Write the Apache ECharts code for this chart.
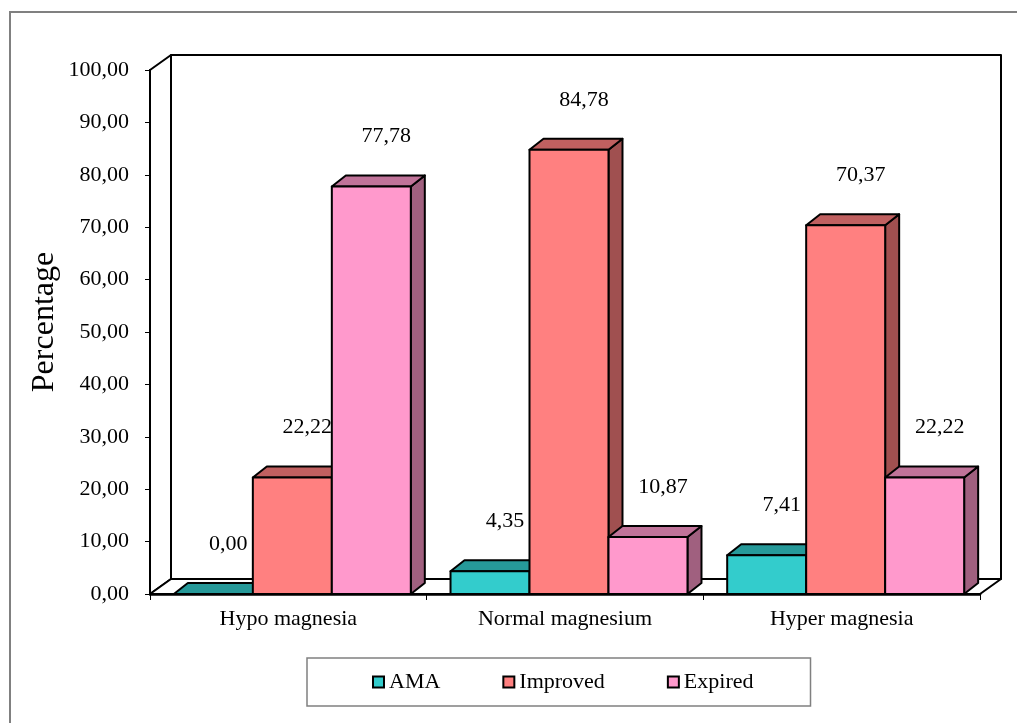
<!DOCTYPE html>
<html>
<head>
<meta charset="utf-8">
<script src="https://cdn.jsdelivr.net/npm/echarts@6/dist/echarts.min.js"></script>
<style>
html,body{margin:0;padding:0;background:#fff;}
#chart{width:1017px;height:723px;}
</style>
</head>
<body>
<div id="chart"></div>
<script>
// ---- data ----
const categories = ['Hypo magnesia', 'Normal magnesium', 'Hyper magnesia'];
const seriesNames = ['AMA', 'Improved', 'Expired'];
const amaValues = [0.00, 4.35, 7.41];
const improvedValues = [22.22, 84.78, 70.37];
const expiredValues = [77.78, 10.87, 22.22];
const yAxisTitle = 'Percentage';

// ---- styles ----
const FONT = '"Liberation Serif", "Times New Roman", serif';
const palettes = [
  { front: '#33CCCC', top: '#269999', side: '#1F8080' },
  { front: '#FF8080', top: '#C06060', side: '#A05050' },
  { front: '#FF99CC', top: '#C07399', side: '#A0607F' }
];
const fmt = v => v.toFixed(2).replace('.', ',');

function barRenderer(si) {
  const pal = palettes[si];
  return function (params, api) {
    const ci = api.value(0), v = api.value(1);
    const base = api.coord([ci, 0]);
    const topP = api.coord([ci, v]);
    const band = api.size([1, 0])[0];
    const bw = band * 0.2855;
    const x0 = base[0] - 1.5 * bw + 4 + si * bw;
    const x1 = x0 + bw;
    const yb = base[1], yt = topP[1];
    const dx = 14, dy = -11;
    const stroke = { stroke: '#000', lineWidth: 2, lineJoin: 'round' };
    return {
      type: 'group',
      children: [
        { type: 'polygon', shape: { points: [[x1, yt], [x1 + dx, yt + dy], [x1 + dx, yb + dy], [x1, yb]] },
          style: Object.assign({ fill: pal.side }, stroke) },
        { type: 'polygon', shape: { points: [[x0, yt], [x0 + dx, yt + dy], [x1 + dx, yt + dy], [x1, yt]] },
          style: Object.assign({ fill: pal.top }, stroke) },
        { type: 'rect', shape: { x: x0, y: yt, width: bw, height: yb - yt },
          style: Object.assign({ fill: pal.front }, stroke) },
        { type: 'text', style: { text: fmt(v), x: (x0 + x1) / 2 + 15, y: yt - 50,
          align: 'center', verticalAlign: 'middle', font: '22px ' + FONT, fill: '#000' } }
      ]
    };
  };
}

function wallRenderer(params, api) {
  const c = params.coordSys;
  const x = c.x, y = c.y, w = c.width, h = c.height;
  const dx = 21, dy = -15;
  const st = { fill: '#fff', stroke: '#000', lineWidth: 2, lineJoin: 'round' };
  return {
    type: 'group',
    children: [
      { type: 'rect', shape: { x: x + dx, y: y + dy, width: w, height: h }, style: Object.assign({}, st) },
      { type: 'polygon', shape: { points: [[x, y], [x + dx, y + dy], [x + dx, y + h + dy], [x, y + h]] }, style: Object.assign({}, st) },
      { type: 'polygon', shape: { points: [[x, y + h], [x + dx, y + h + dy], [x + w + dx, y + h + dy], [x + w, y + h]] }, style: Object.assign({}, st) }
    ]
  };
}

const valueLists = [amaValues, improvedValues, expiredValues];
const chart = echarts.init(document.getElementById('chart'), null, { renderer: 'canvas' });

const option = {
  animation: false,
  backgroundColor: '#fff',
  grid: { left: 150, right: 37, top: 70, bottom: 129 },
  graphic: [
    { type: 'rect', shape: { x: 10, y: 12, width: 1200, height: 900 },
      style: { fill: 'none', stroke: '#808080', lineWidth: 2 }, z: -10 },
    { type: 'text', x: 45, y: 322, rotation: Math.PI / 2,
      style: { text: yAxisTitle, font: '32px ' + FONT, fill: '#000', align: 'center', verticalAlign: 'middle' } }
  ],
  legend: {
    data: seriesNames,
    left: 307, top: 658,
    padding: [13, 57, 13, 65],
    itemGap: 62,
    itemWidth: 11, itemHeight: 11,
    icon: 'rect',
    borderColor: '#808080', borderWidth: 1.5,
    textStyle: { fontFamily: FONT, fontSize: 22, color: '#000' }
  },
  xAxis: {
    type: 'category',
    data: categories,
    z: 5,
    axisLine: { show: true, lineStyle: { color: '#000', width: 2.5 } },
    axisTick: { show: true, length: 6, lineStyle: { color: '#000', width: 1 } },
    axisLabel: { margin: 14, fontFamily: FONT, fontSize: 22, color: '#000' },
    splitLine: { show: false }
  },
  yAxis: {
    type: 'value',
    min: 0, max: 100, interval: 10,
    z: 5,
    axisLine: { show: true, lineStyle: { color: '#000', width: 2 } },
    axisTick: { show: true, length: 5, lineStyle: { color: '#000', width: 1 } },
    axisLabel: { margin: 21, fontFamily: FONT, fontSize: 22, color: '#000', formatter: v => fmt(v) },
    splitLine: { show: false }
  },
  series: [
    { type: 'custom', name: '_walls', z: 1, silent: true, renderItem: wallRenderer, data: [[0, 0]], encode: { x: 0, y: 1 } }
  ].concat(seriesNames.map((name, si) => ({
    type: 'custom',
    name: name,
    z: 2,
    renderItem: barRenderer(si),
    itemStyle: { color: palettes[si].front, borderColor: '#000', borderWidth: 1.5 },
    encode: { x: 0, y: 1 },
    data: valueLists[si].map((v, i) => [i, v])
  })))
};
chart.setOption(option);
</script>
</body>
</html>
